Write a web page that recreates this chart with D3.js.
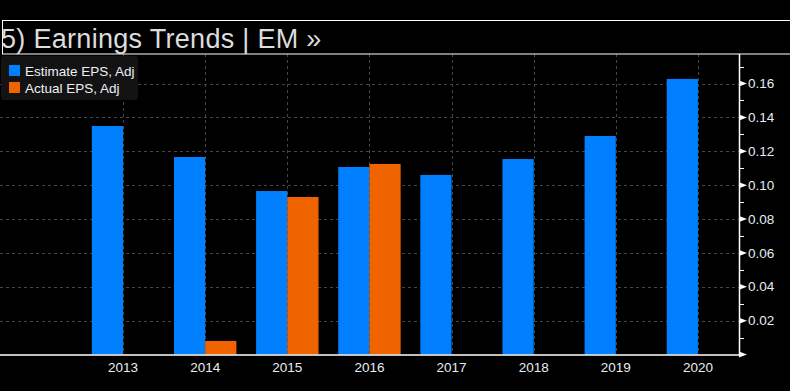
<!DOCTYPE html>
<html lang="en">
<head>
<meta charset="UTF-8">
<title>Earnings Trends | EM</title>
<script src="https://d3js.org/d3.v7.min.js"></script>
<style>
    body { margin: 0; background: #000; }
    svg { display: block; font-family: "Liberation Sans", Arial, sans-serif; }
</style>
</head>
<body>
<div id="chart"></div>
<script>
// data
const years = ["2013", "2014", "2015", "2016", "2017", "2018", "2019", "2020"];
const estimateEPS = [0.1349, 0.1166, 0.0965, 0.1107, 0.1060, 0.1154, 0.1290, 0.1627];
const actualEPS = [null, 0.0080, 0.0930, 0.1125, null, null, null, null];
const yTicks = [0.02, 0.04, 0.06, 0.08, 0.10, 0.12, 0.14, 0.16];
const seriesNames = ["Estimate EPS, Adj", "Actual EPS, Adj"];
const colors = ["#0080ff", "#f06400"];

const width = 790, height = 391;
const plotTop = 54, plotBottom = 355, axisX = 739;

const svg = d3.select("#chart").append("svg")
    .attr("width", width)
    .attr("height", height);

svg.append("rect").attr("width", width).attr("height", height).attr("fill", "#000");

const x = d3.scaleBand()
    .domain(years)
    .range([82, axisX])
    .padding(0);

const y = d3.scaleLinear()
    .domain([0, 0.16])
    .range([354.5, 83.5]);

const barW = x.bandwidth() * 0.38;
const center = d => x(d) + x.bandwidth() / 2;

// grid
const grid = svg.append("g")
    .attr("stroke", "#444")
    .attr("stroke-dasharray", "3,3")
    .attr("stroke-width", 1);

grid.selectAll(".hg").data(yTicks).join("line")
    .attr("x1", 0).attr("x2", axisX)
    .attr("y1", d => Math.round(y(d)) + 0.5)
    .attr("y2", d => Math.round(y(d)) + 0.5);

grid.selectAll(".vg").data(years).join("line")
    .attr("x1", d => Math.round(center(d)) + 0.5)
    .attr("x2", d => Math.round(center(d)) + 0.5)
    .attr("y1", plotTop).attr("y2", plotBottom);

// bars
svg.append("g").selectAll("rect")
    .data(years.map((yr, i) => ({ yr, v: estimateEPS[i] })))
    .join("rect")
    .attr("x", d => center(d.yr) - barW)
    .attr("y", d => y(d.v))
    .attr("width", barW)
    .attr("height", d => y(0) - y(d.v))
    .attr("fill", colors[0]);

svg.append("g").selectAll("rect")
    .data(years.map((yr, i) => ({ yr, v: actualEPS[i] })).filter(d => d.v != null))
    .join("rect")
    .attr("x", d => center(d.yr))
    .attr("y", d => y(d.v))
    .attr("width", barW)
    .attr("height", d => y(0) - y(d.v))
    .attr("fill", colors[1]);

// axes
svg.append("line")
    .attr("x1", 0).attr("x2", axisX + 0.5)
    .attr("y1", plotBottom).attr("y2", plotBottom)
    .attr("stroke", "#fff").attr("stroke-width", 1.5);

svg.append("line")
    .attr("x1", axisX + 0.5).attr("x2", axisX + 0.5)
    .attr("y1", plotTop).attr("y2", plotBottom)
    .attr("stroke", "#fff").attr("stroke-width", 1.5);

// minor ticks every 0.01
const minor = d3.range(1, 18).map(i => i / 100);
svg.append("g").selectAll("line")
    .data(minor.filter(m => !yTicks.some(t => Math.abs(t - m) < 1e-9)))
    .join("line")
    .attr("x1", axisX).attr("x2", axisX + 5)
    .attr("y1", d => Math.round(y(d)) + 0.5)
    .attr("y2", d => Math.round(y(d)) + 0.5)
    .attr("stroke", "#fff");

// major ticks as small triangles
svg.append("g").selectAll("path")
    .data([0].concat(yTicks))
    .join("path")
    .attr("d", d => {
        const ty = y(d);
        return `M${axisX},${ty - 3}L${axisX + 8},${ty}L${axisX},${ty + 3}Z`;
    })
    .attr("fill", "#fff");

svg.append("g").selectAll("text")
    .data(yTicks)
    .join("text")
    .attr("x", 748)
    .attr("y", d => y(d))
    .attr("dy", "0.35em")
    .attr("fill", "#e8ecf4")
    .style("font-size", "13.5px")
    .text(d => d.toFixed(2));

svg.append("g").selectAll("text")
    .data(years)
    .join("text")
    .attr("x", d => center(d))
    .attr("y", 367)
    .attr("dy", "0.35em")
    .attr("text-anchor", "middle")
    .attr("fill", "#e8ecf4")
    .style("font-size", "13.5px")
    .text(d => d);

// title box
svg.append("rect")
    .attr("x", 2.5).attr("y", 20.5)
    .attr("width", width).attr("height", 33.5)
    .attr("fill", "#000")
    .attr("stroke", "#fff")
    .attr("stroke-width", 1);

svg.append("text")
    .attr("x", 1)
    .attr("y", 48)
    .attr("fill", "#dcdcdc")
    .style("font-size", "27px")
    .style("letter-spacing", "0.3px")
    .text("5) Earnings Trends | EM \u00bb");

// legend
const legend = svg.append("g");
legend.append("rect")
    .attr("x", 1).attr("y", 56)
    .attr("width", 137).attr("height", 44)
    .attr("rx", 3)
    .attr("fill", "#131313");

const items = legend.selectAll("g.item")
    .data(seriesNames)
    .join("g")
    .attr("transform", (d, i) => `translate(9, ${65 + i * 17})`);

items.append("rect")
    .attr("width", 11).attr("height", 11)
    .attr("fill", (d, i) => colors[i]);

items.append("text")
    .attr("x", 16)
    .attr("y", 6)
    .attr("dy", "0.35em")
    .attr("fill", "#eef0f6")
    .style("font-size", "13.5px")
    .text(d => d);
</script>
</body>
</html>
